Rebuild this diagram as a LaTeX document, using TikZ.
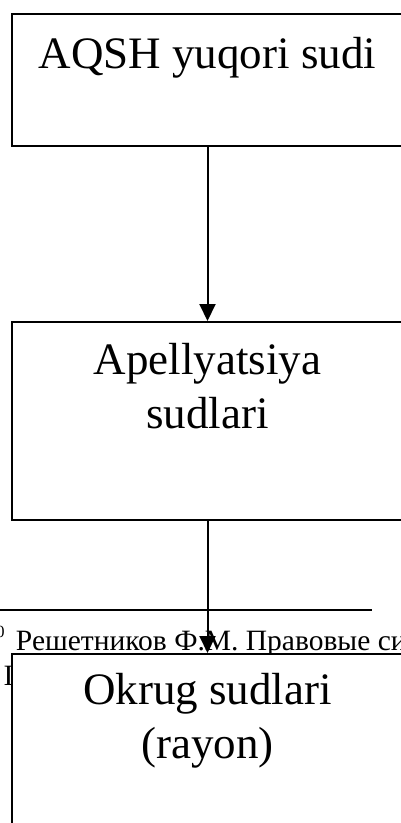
\documentclass[tikz,border=0pt]{standalone}
\usepackage{fontspec}
\setmainfont{Liberation Serif}
\usetikzlibrary{arrows.meta, positioning}

\tikzset{
  court/.style={draw, fill=white, inner sep=0pt, minimum width=392pt, align=center,
    anchor=north west, font=\fontsize{45}{54}\selectfont},
  footnote/.style={inner sep=0pt, anchor=base west, font=\fontsize{29.5}{34}\selectfont},
}

\begin{document}
\begin{tikzpicture}[>={Triangle[width=16pt, length=17pt]}, line width=2pt, x=1pt, y=-1pt]
  \useasboundingbox (0,0) rectangle (401,823);
  % footnote rule and the text under it
  \draw[line width=1.5pt] (0,610) -- (372,610);
  \node[footnote] (fntext) at (15,650) {Решетников Ф.М. Правовые си};
  \node[footnote, anchor=base east, font=\fontsize{17}{20}\selectfont] (fnmark) at (5.5,637) {0};
  \node[footnote] (fnnext) at (2.5,685) {I};
  % the three levels of courts (base is the last line)
  \node[court, text height=54pt, text depth=78pt] (supreme) at (10.5,13) {AQSH yuqori sudi};
  \node[court, text height=106pt, text depth=92pt] (appeal) at (10.5,321) {Apellyatsiya\\ sudlari};
  \node[court, text height=104pt, text depth=94pt] (district) at (10.5,653) {Okrug sudlari\\ (rayon)};
  \draw[->] (supreme) -- (appeal);
  \draw[->] (appeal) -- (district);
\end{tikzpicture}
\end{document}
